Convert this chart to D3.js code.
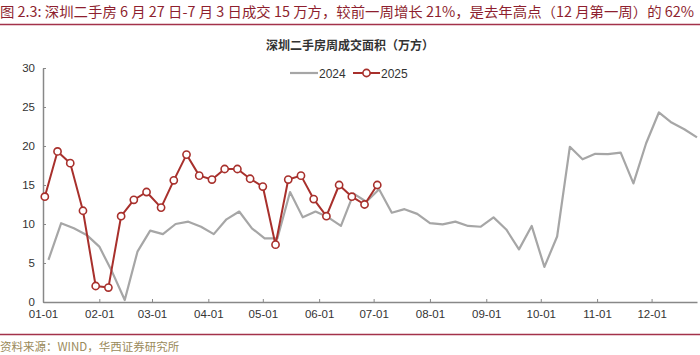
<!DOCTYPE html>
<html>
<head>
<meta charset="utf-8">
<script src="https://cdn.jsdelivr.net/npm/d3@7"></script>
<style>
  body { margin: 0; background: #fff; }
  svg { display: block; font-family: "Liberation Sans", Arial, "Noto Sans CJK SC", sans-serif; }
  .cjk { font-family: "Noto Sans CJK SC", sans-serif; }
</style>
</head>
<body>
<div id="chart"></div>
<script>
// weekly dates, month-day, plotted on a 2024 calendar
const dates2024 = [
  "01-04", "01-11", "01-18", "01-25", "02-01", "02-08", "02-15", "02-22", "02-29",
  "03-07", "03-14", "03-21", "03-28", "04-04", "04-11", "04-18", "04-25", "05-02",
  "05-09", "05-16", "05-23", "05-30", "06-06", "06-13", "06-20", "06-27", "07-04",
  "07-11", "07-18", "07-25", "08-01", "08-08", "08-15", "08-22", "08-29", "09-05",
  "09-12", "09-19", "09-26", "10-03", "10-10", "10-17", "10-24", "10-31", "11-07",
  "11-14", "11-21", "11-28", "12-05", "12-12", "12-19", "12-26"
];
const values2024 = [
  5.4, 10.1, 9.45, 8.6, 7.1, 3.9, 0.25, 6.45, 9.15,
  8.7, 10.0, 10.3, 9.65, 8.7, 10.6, 11.6, 9.45, 8.15,
  8.15, 14.1, 10.85, 11.6, 10.85, 9.75, 13.9, 12.85, 14.45,
  11.45, 11.9, 11.3, 10.1, 9.95, 10.3, 9.75, 9.65, 10.85,
  9.3, 6.75, 9.75, 4.5, 8.4, 19.9, 18.3, 19.0, 18.95,
  19.15, 15.2, 20.35, 24.3, 23.0, 22.15, 21.1
];
const dates2025 = [
  "01-02", "01-09", "01-16", "01-23", "01-30", "02-06", "02-13", "02-20", "02-27",
  "03-06", "03-13", "03-20", "03-27", "04-03", "04-10", "04-17", "04-24", "05-01",
  "05-08", "05-15", "05-22", "05-29", "06-05", "06-12", "06-19", "06-26", "07-03"
];
const values2025 = [
  13.5, 19.3, 17.8, 11.7, 2.05, 1.85, 11.0, 13.1, 14.1,
  12.1, 15.6, 18.9, 16.2, 15.7, 17.05, 17.05, 15.8, 14.8,
  7.35, 15.7, 16.2, 13.2, 11.0, 15.0, 13.5, 12.5, 15.0
];
const yTicks = [0, 5, 10, 15, 20, 25, 30];
const monthTicks = ["01-01", "02-01", "03-01", "04-01", "05-01", "06-01",
  "07-01", "08-01", "09-01", "10-01", "11-01", "12-01"];

const headline = "图 2.3: 深圳二手房 6 月 27 日-7 月 3 日成交 15 万方，较前一周增长 21%，是去年高点（12 月第一周）的 62%";
const chartTitle = "深圳二手房周成交面积（万方）";
const source = "资料来源：WIND，华西证券研究所";

const width = 700, height = 355;
const margin = { top: 68, right: 3, bottom: 53, left: 43 };
const gray = "#a6a6a6", red = "#a8302c", maroon = "#a3324a";

const parse = d3.timeParse("%Y-%m-%d");
const md = (s) => parse("2024-" + s);

const svg = d3.select("#chart").append("svg")
  .attr("width", width).attr("height", height);

// headline + rules
svg.append("text").attr("class", "cjk")
  .attr("x", 0).attr("y", 17)
  .attr("font-size", 14).attr("fill", "#8e1f2f")
  .attr("textLength", 694).attr("lengthAdjust", "spacingAndGlyphs")
  .text(headline);
svg.append("line").attr("x1", 0).attr("x2", width).attr("y1", 24.5).attr("y2", 24.5)
  .attr("stroke", maroon).attr("stroke-width", 1.5);
svg.append("line").attr("x1", 0).attr("x2", width).attr("y1", 334.5).attr("y2", 334.5)
  .attr("stroke", maroon).attr("stroke-width", 1.5);
svg.append("text").attr("class", "cjk")
  .attr("x", 0).attr("y", 351)
  .attr("font-size", 11.5).attr("fill", "#9a8a5a")
  .text(source);

svg.append("text").attr("class", "cjk")
  .attr("x", 350).attr("y", 50).attr("text-anchor", "middle")
  .attr("font-size", 12).attr("font-weight", "bold").attr("fill", "#333")
  .text(chartTitle);

const x = d3.scaleTime()
  .domain([md("01-01"), md("12-26")])
  .range([margin.left, width - margin.right]);
const y = d3.scaleLinear()
  .domain([0, 30])
  .range([height - margin.bottom, margin.top]);

// axes
const xAxis = svg.append("g")
  .attr("transform", `translate(0,${y(0)})`)
  .call(d3.axisBottom(x)
    .tickValues(monthTicks.map(md))
    .tickFormat(d3.timeFormat("%m-%d"))
    .tickSizeInner(-3).tickSizeOuter(0).tickPadding(8));
xAxis.select(".domain").attr("stroke", "#888").attr("stroke-width", 1.5);
xAxis.selectAll(".tick line").attr("stroke", "#888");
xAxis.selectAll(".tick text").attr("font-size", 11.5).attr("fill", "#333");

const yAxis = svg.append("g")
  .attr("transform", `translate(${margin.left},0)`)
  .call(d3.axisLeft(y)
    .tickValues(yTicks)
    .tickSizeInner(-3).tickSizeOuter(0).tickPadding(8));
yAxis.select(".domain").attr("stroke", "#888").attr("stroke-width", 1.5);
yAxis.selectAll(".tick line").attr("stroke", "#888");
yAxis.selectAll(".tick text").attr("font-size", 11.5).attr("fill", "#333");

// lines
const s2024 = dates2024.map((d, i) => ({ date: md(d), value: values2024[i] }));
const s2025 = dates2025.map((d, i) => ({ date: md(d), value: values2025[i] }));

const line = d3.line()
  .x((d) => x(d.date))
  .y((d) => y(d.value));

svg.append("path").datum(s2024)
  .attr("fill", "none").attr("stroke", gray).attr("stroke-width", 2.2)
  .attr("stroke-linejoin", "round")
  .attr("d", line);

svg.append("path").datum(s2025)
  .attr("fill", "none").attr("stroke", red).attr("stroke-width", 2)
  .attr("stroke-linejoin", "round")
  .attr("d", line);

svg.append("g").selectAll("circle")
  .data(s2025)
  .join("circle")
  .attr("cx", (d) => x(d.date))
  .attr("cy", (d) => y(d.value))
  .attr("r", 3.6)
  .attr("fill", "#fff")
  .attr("stroke", red)
  .attr("stroke-width", 1.6);

// legend
const legend = svg.append("g").attr("transform", "translate(0,73)");
legend.append("line").attr("x1", 290).attr("x2", 318).attr("y1", 0).attr("y2", 0)
  .attr("stroke", gray).attr("stroke-width", 2.2);
legend.append("text").attr("x", 319).attr("y", 4.5)
  .attr("font-size", 12).attr("fill", "#333").text("2024");
legend.append("line").attr("x1", 353).attr("x2", 380).attr("y1", 0).attr("y2", 0)
  .attr("stroke", red).attr("stroke-width", 2);
legend.append("circle").attr("cx", 366.5).attr("cy", 0).attr("r", 3.6)
  .attr("fill", "#fff").attr("stroke", red).attr("stroke-width", 1.6);
legend.append("text").attr("x", 381).attr("y", 4.5)
  .attr("font-size", 12).attr("fill", "#333").text("2025");
</script>
</body>
</html>
